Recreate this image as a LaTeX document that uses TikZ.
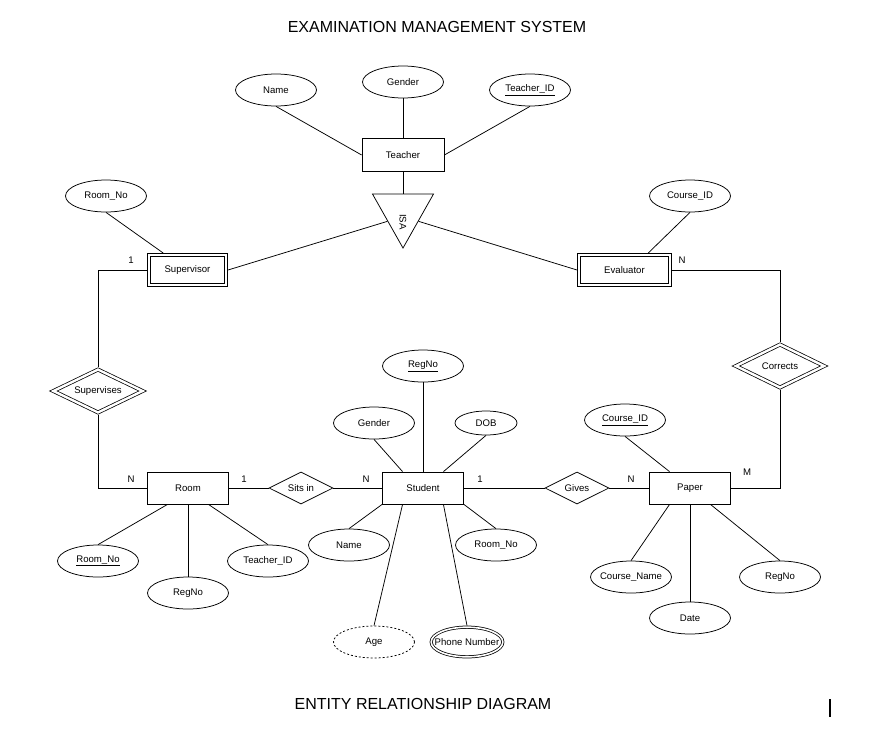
\documentclass[tikz,border=0pt]{standalone}
\usepackage{fontspec}
\setmainfont{Liberation Sans}
\usepackage{tikz}
\usetikzlibrary{shapes.geometric, calc, positioning}

\newcommand{\erfont}{\fontsize{9.6}{11.5}\selectfont}

\tikzset{
    entity/.style={rectangle, draw, minimum width=81pt, minimum height=32pt, inner sep=0pt, font=\erfont},
    weak entity/.style={entity, line width=1pt, double, double distance=2pt, outer sep=2pt, minimum width=77pt, minimum height=30pt},
    attribute/.style={ellipse, draw, minimum width=81pt, minimum height=32pt, inner xsep=-8pt, inner ysep=0pt, font=\erfont},
    multi attribute/.style={attribute, double, double distance=1.6pt, outer sep=1.55pt, minimum width=71.65pt, minimum height=29.65pt},
    relation/.style={diamond, aspect=2, draw, minimum width=64pt, minimum height=32pt, inner sep=0pt, font=\erfont},
    weak relation/.style={relation, double, double distance=2.4pt, outer sep=1.95pt, minimum width=90.8pt, minimum height=44.5pt},
    specialization/.style={isosceles triangle, isosceles triangle stretches, draw, minimum width=61pt, minimum height=54pt, inner sep=0pt},
    cardinality/.style={font=\erfont, inner sep=0pt},
    heading/.style={font=\fontsize{16}{19}\selectfont, inner sep=0pt},
}

\begin{document}
\begin{tikzpicture}[x=1pt, y=-1pt, line width=0.75pt]
    \useasboundingbox (0, 0) rectangle (896, 729);

    \node[heading] (title_top) at (437, 27) {EXAMINATION MANAGEMENT SYSTEM};
    \node[heading] (title_bottom) at (423, 704) {ENTITY RELATIONSHIP DIAGRAM};

    % teacher and its subclasses
    \node[entity, minimum width=82pt, minimum height=33pt] (teacher) at (403, 155) {Teacher};
    \node[attribute] (teacher_name) at ($(teacher)+(-127, -65)$) {Name};
    \node[attribute] (teacher_gender) at ($(teacher)+(0, -73)$) {Gender};
    \node[attribute] (teacher_id) at ($(teacher)+(127, -65)$) {\underline{Teacher\_ID}};
    \draw (teacher_name.south) -- (teacher.west);
    \draw (teacher_gender.south) -- (teacher.north);
    \draw (teacher_id.south) -- (teacher.east);

    \node[specialization, rotate=-90, anchor=apex] (isa) at (403, 249) {};
    \node[font=\erfont, rotate=-90, inner sep=0pt] (isa_text) at (403, 222) {ISA};
    \draw (teacher.south) -- (isa.lower side);

    \node[weak entity] (supervisor) at (187.5, 270) {Supervisor};
    \node[weak entity, minimum width=91pt] (evaluator) at (624.5, 270) {Evaluator};
    \node[attribute] (supervisor_room_no) at ($(supervisor)+(-81.5, -74)$) {Room\_No};
    \node[attribute] (evaluator_course_id) at ($(evaluator)+(65.5, -74)$) {Course\_ID};
    \draw (isa.right side) -- (supervisor.east);
    \draw (isa.left side) -- (evaluator.west);
    \draw (supervisor_room_no.south) -- ($(supervisor.north west)!.2!(supervisor.north east)$);
    \draw (evaluator_course_id.south) -- ($(evaluator.north west)!.75!(evaluator.north east)$);

    \node[weak relation] (supervises) at (98, 391) {Supervises};
    \node[weak relation, minimum width=89.8pt] (corrects) at (780, 366) {Corrects};

    % main row
    \node[entity] (room) at (188, 488) {Room};
    \node[relation] (sits_in) at (301, 488) {Sits in};
    \node[entity] (student) at (423, 488) {Student};
    \node[relation] (gives) at (577, 488) {Gives};
    \node[entity] (paper) at (690, 488) {Paper};

    \draw (supervisor.west) -| (supervises.north);
    \draw (supervises.south) |- (room.west);
    \draw (room.east) -- (sits_in.west);
    \draw (sits_in.east) -- (student.west);
    \draw (student.east) -- (gives.west);
    \draw (gives.east) -- (paper.west);
    \draw (evaluator.east) -| (corrects.north);
    \draw (paper.east) -| (corrects.south);

    \node[cardinality] (card_supervisor) at (131, 260) {1};
    \node[cardinality] (card_evaluator) at (682, 260) {N};
    \node[cardinality] (card_room_supervises) at (131, 479) {N};
    \node[cardinality] (card_room_sits) at (244, 479) {1};
    \node[cardinality] (card_student_sits) at (366, 479) {N};
    \node[cardinality] (card_student_gives) at (480, 479) {1};
    \node[cardinality] (card_paper_gives) at (631, 479) {N};
    \node[cardinality] (card_paper_corrects) at (747, 472) {M};

    % room attributes
    \node[attribute] (room_room_no) at ($(room)+(-90, 73)$) {\underline{Room\_No}};
    \node[attribute] (room_reg_no) at ($(room)+(0, 105)$) {RegNo};
    \node[attribute] (room_teacher_id) at ($(room)+(80, 73)$) {Teacher\_ID};
    \draw (room_room_no.north) -- ($(room.south west)!.25!(room.south east)$);
    \draw (room_reg_no.north) -- (room.south);
    \draw (room_teacher_id.north) -- ($(room.south west)!.75!(room.south east)$);

    % student attributes
    \node[attribute] (student_reg_no) at ($(student)+(0, -122)$) {\underline{RegNo}};
    \node[attribute] (student_gender) at ($(student)+(-49, -65)$) {Gender};
    \node[attribute, minimum width=62pt, minimum height=24pt] (student_dob) at ($(student)+(63, -65)$) {DOB};
    \node[attribute] (student_name) at ($(student)+(-74, 57)$) {Name};
    \node[attribute] (student_room_no) at ($(student)+(73, 57)$) {Room\_No};
    \node[attribute, dash pattern=on 2pt off 2pt] (student_age) at ($(student)+(-49, 154)$) {Age};
    \node[multi attribute] (student_phone) at ($(student)+(44, 154)$) {Phone Number};
    \draw (student_reg_no.south) -- (student.north);
    \draw (student_gender.south) -- ($(student.north west)!.25!(student.north east)$);
    \draw (student_dob.south) -- ($(student.north west)!.75!(student.north east)$);
    \draw (student_name.north) -- (student.south west);
    \draw (student_room_no.north) -- (student.south east);
    \draw (student_age.north) -- ($(student.south west)!.25!(student.south east)$);
    \draw (student_phone.north) -- ($(student.south west)!.75!(student.south east)$);

    % paper attributes
    \node[attribute] (paper_course_id) at ($(paper)+(-65, -68)$) {\underline{Course\_ID}};
    \node[attribute] (paper_course_name) at ($(paper)+(-59, 89)$) {Course\_Name};
    \node[attribute] (paper_date) at ($(paper)+(0, 130)$) {Date};
    \node[attribute] (paper_reg_no) at ($(paper)+(90, 89)$) {RegNo};
    \draw (paper_course_id.south) -- ($(paper.north west)!.25!(paper.north east)$);
    \draw (paper_course_name.north) -- ($(paper.south west)!.25!(paper.south east)$);
    \draw (paper_date.north) -- (paper.south);
    \draw (paper_reg_no.north) -- ($(paper.south west)!.75!(paper.south east)$);

    \draw[line width=2pt] (830, 699) -- (830, 717);
\end{tikzpicture}
\end{document}
